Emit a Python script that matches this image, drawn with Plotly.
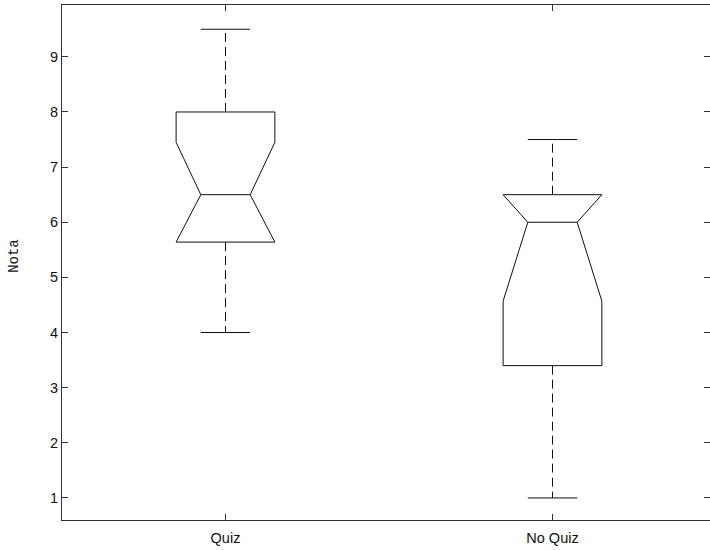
import plotly.graph_objects as go

# ---- data ----
groups = ["Quiz", "No Quiz"]
positions = [1, 2]
q1 = [5.64, 3.40]
median = [6.5, 6.0]
q3 = [8.0, 6.5]
lower_whisker = [4.0, 1.0]
upper_whisker = [9.5, 7.5]
notch_low = [5.55, 4.57]
notch_high = [7.45, 7.43]
y_ticks = [1, 2, 3, 4, 5, 6, 7, 8, 9]

# ---- styling ----
BOX_HALF = 0.151
NOTCH_HALF = BOX_HALF / 2
CAP_HALF = BOX_HALF / 2
LINE = dict(color="#111111", width=1)
DASH = dict(color="#111111", width=1, dash="9px,5px")

fig = go.Figure()

for c, a, m, b, lo, hi, nl, nh in zip(positions, q1, median, q3, lower_whisker,
                                      upper_whisker, notch_low, notch_high):
    nlo = max(nl, a)
    nhi = min(nh, b)
    # notched box outline
    fig.add_trace(go.Scatter(
        x=[c - BOX_HALF, c - BOX_HALF, c - NOTCH_HALF, c - BOX_HALF, c - BOX_HALF,
           c + BOX_HALF, c + BOX_HALF, c + NOTCH_HALF, c + BOX_HALF, c + BOX_HALF,
           c - BOX_HALF],
        y=[a, nlo, m, nhi, b, b, nhi, m, nlo, a, a],
        mode="lines", line=LINE, hoverinfo="skip", showlegend=False))
    # median
    fig.add_trace(go.Scatter(x=[c - NOTCH_HALF, c + NOTCH_HALF], y=[m, m],
                             mode="lines", line=LINE, showlegend=False))
    # whiskers (dashed)
    fig.add_trace(go.Scatter(x=[c, c], y=[b, hi], mode="lines", line=DASH,
                             showlegend=False))
    fig.add_trace(go.Scatter(x=[c, c], y=[a, lo], mode="lines", line=DASH,
                             showlegend=False))
    # whisker caps
    fig.add_trace(go.Scatter(x=[c - CAP_HALF, c + CAP_HALF], y=[hi, hi],
                             mode="lines", line=LINE, showlegend=False))
    fig.add_trace(go.Scatter(x=[c - CAP_HALF, c + CAP_HALF], y=[lo, lo],
                             mode="lines", line=LINE, showlegend=False))

axis_common = dict(
    showline=True, linecolor="#333333", linewidth=1, mirror="ticks",
    ticks="inside", ticklen=6, tickcolor="#333333", tickwidth=1,
    showgrid=False, zeroline=False,
    tickfont=dict(family="Liberation Sans, Arial, sans-serif", size=14.5, color="#111111"),
)

fig.update_xaxes(range=[0.5, 2.4817], tickvals=positions, ticktext=groups,
                 ticklabelstandoff=5, **axis_common)
fig.update_yaxes(range=[0.6, 9.94], tickvals=y_ticks,
                 ticktext=[str(v) for v in y_ticks], ticklabelstandoff=0,
                 **axis_common)

fig.add_annotation(text="Nota", xref="paper", yref="paper", x=-0.074, y=0.513,
                   xanchor="center", yanchor="middle", textangle=-90,
                   showarrow=False,
                   font=dict(family="Liberation Mono, Courier New, monospace",
                             size=14, color="#111111"))

fig.update_layout(
    width=710, height=550,
    margin=dict(l=62, r=0, t=5, b=30),
    paper_bgcolor="white", plot_bgcolor="white",
    showlegend=False,
)

fig.write_html(
    "out.html",
    config={"displayModeBar": False},
    post_script="document.body.style.margin='0';document.body.style.overflow='hidden';",
)
